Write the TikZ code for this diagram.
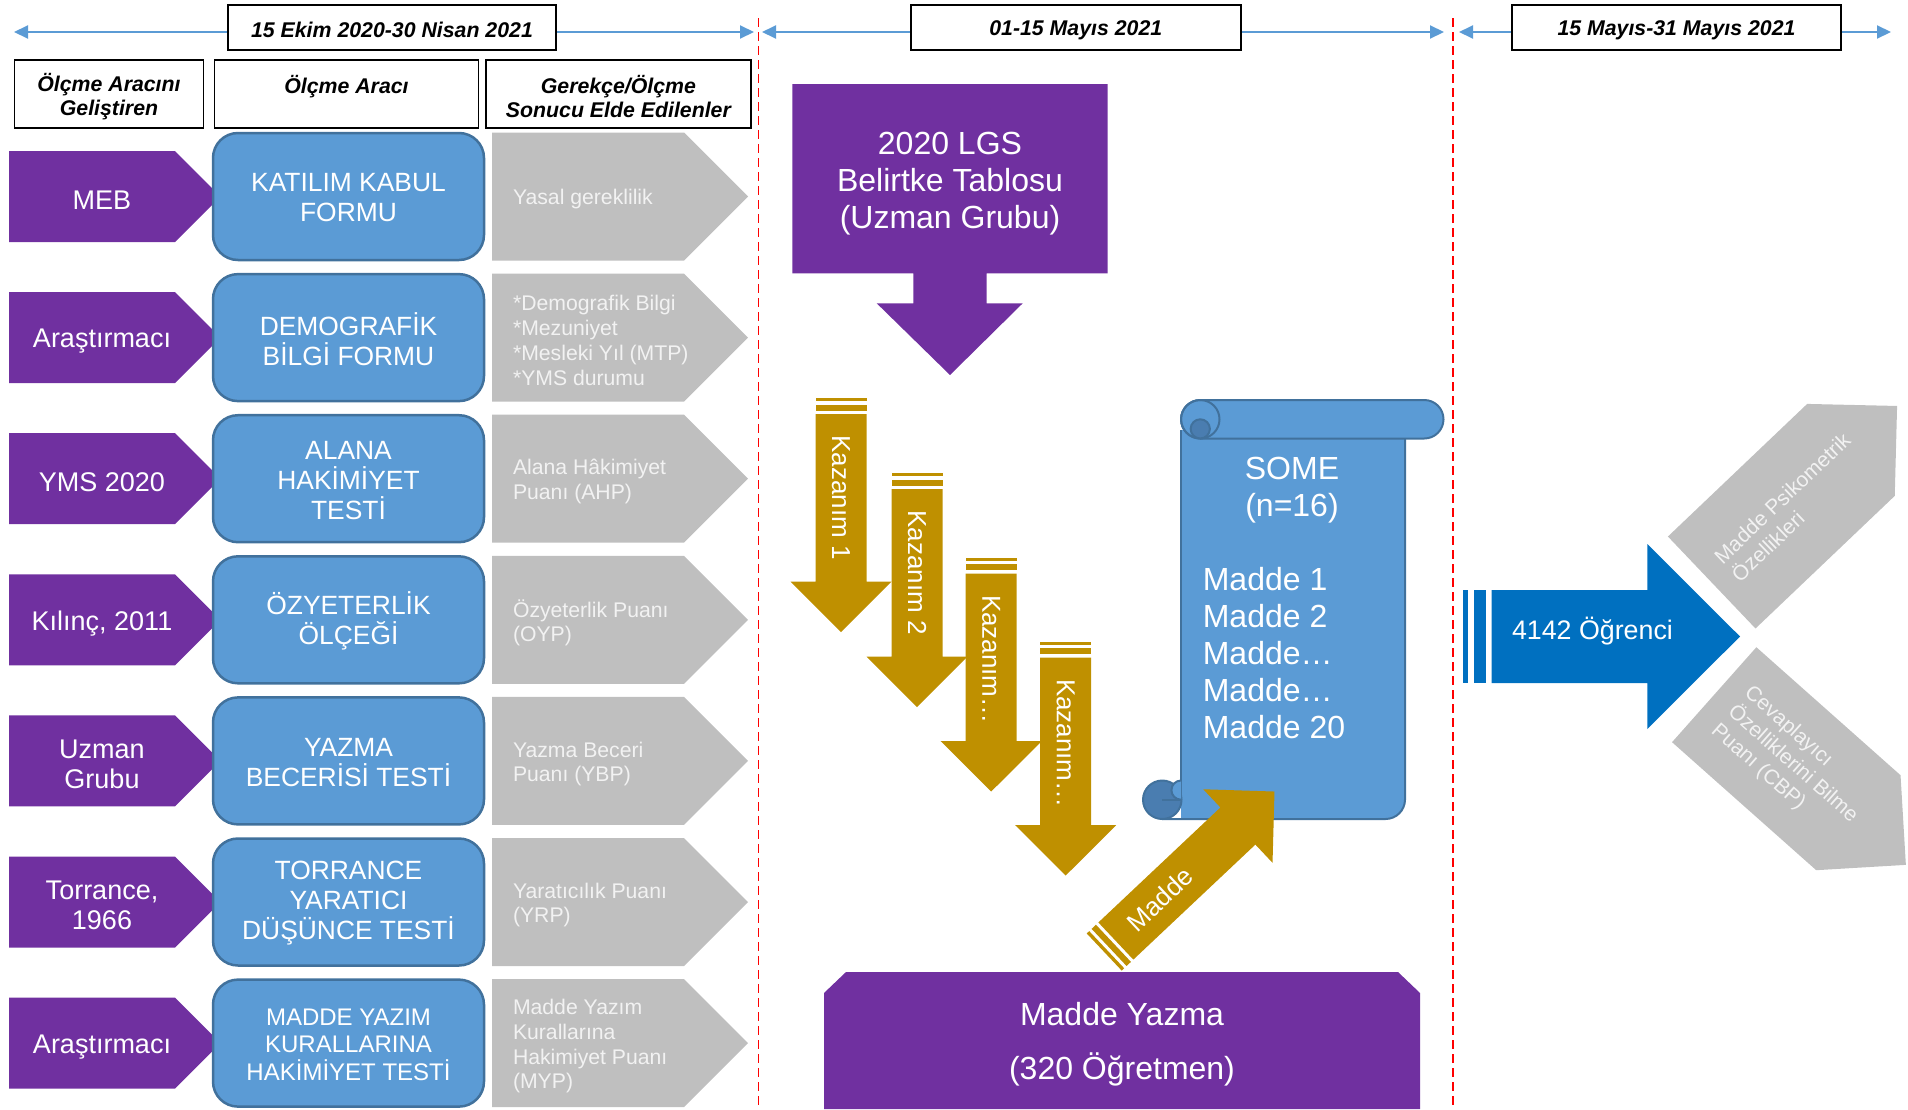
\documentclass[tikz,border=0pt]{standalone}
\usepackage{fontspec}
\setmainfont{Liberation Sans}
\usetikzlibrary{arrows.meta}

\definecolor{mpurple}{HTML}{7030A0}
\definecolor{mblue}{HTML}{5B9BD5}
\definecolor{mbline}{HTML}{41719C}
\definecolor{mbdark}{HTML}{4A7DB0}
\definecolor{mgold}{HTML}{BF9000}
\definecolor{mgray}{HTML}{BFBFBF}
\definecolor{mgtext}{HTML}{F2F2F2}
\definecolor{mdeep}{HTML}{0070C0}
\definecolor{mtime}{HTML}{5B9BD5}

% striped arrow, tail at the origin, pointing along +x
\newcommand\goldarrow{%
  \fill[mgold] (0,-25.5) rectangle (3.4,25.5);
  \fill[mgold] (6.7,-25.5) rectangle (12.7,25.5);
  \fill[mgold] (16,-25.5) -- (183.7,-25.5) -- (183.7,-50.5) -- (234,0)
    -- (183.7,50.5) -- (183.7,25.5) -- (16,25.5) -- cycle;}

% one row of the instrument table: #1 id, #2 centre y, #3 developer,
% #4 instrument, #5 outcome, #6 extra options for the instrument text
\newcommand\toolrow[6]{%
  \fill[mpurple] (9,#2-45.5) -- (175,#2-45.5) -- (220.5,#2) -- (175,#2+45.5) -- (9,#2+45.5) -- cycle;
  \node[devtext] (dev#1) at (102,#2) {#3};
  \node[toolbox] (tool#1) at (348.5,#2) {};
  \node[tooltext,#6] (toolt#1) at (tool#1) {#4};
  \fill[mgray] (492,#2-64) -- (684,#2-64) -- (748,#2) -- (684,#2+64) -- (492,#2+64) -- cycle;
  \node[restext] (res#1) at (513,#2) {#5};}

\begin{document}
\begin{tikzpicture}[x=1pt,y=-1pt,
  every node/.style={inner sep=0pt,outer sep=0pt},
  hdrbox/.style={draw=black,line width=1.6pt,fill=white},
  hdrtext/.style={font=\bfseries\itshape\fontsize{21.3}{23.5}\selectfont,align=center,yshift=-2.5pt},
  timeline/.style={draw=mtime,line width=2pt,
    arrows={Triangle[length=14pt,width=13pt]-Triangle[length=14pt,width=13pt]}},
  divider/.style={draw=red,line width=1.4pt,dash pattern=on 9pt off 5pt},
  devtext/.style={text=white,align=center,font=\fontsize{27}{30}\selectfont,yshift=-3.5pt},
  toolbox/.style={draw=mbline,line width=2.5pt,fill=mblue,rounded corners=25pt,
    minimum width=271pt,minimum height=127pt},
  tooltext/.style={text=white,align=center,font=\fontsize{26.4}{30}\selectfont,yshift=-1.5pt},
  restext/.style={anchor=west,align=left,text=mgtext,font=\fontsize{21.2}{24.8}\selectfont,yshift=-3pt},
  bigtext/.style={text=white,align=center,font=\fontsize{32}{37}\selectfont},
  arrowtext/.style={text=white,font=\fontsize{26}{30}\selectfont},
  sidetext/.style={text=mgtext,align=left,anchor=west,font=\fontsize{21}{25}\selectfont},
  scrollline/.style={draw=mbline,line width=2pt}]
\useasboundingbox (0,0) rectangle (1908,1109);

% ---------- time line ----------
\coordinate (t1a) at (14,32);   \coordinate (t1b) at (754,32);
\coordinate (t2a) at (762,32);  \coordinate (t2b) at (1444,32);
\coordinate (t3a) at (1459,32); \coordinate (t3b) at (1891,32);
\draw[timeline] (t1a) -- (t1b);
\draw[timeline] (t2a) -- (t2b);
\draw[timeline] (t3a) -- (t3b);
\node[hdrbox,minimum width=328pt,minimum height=45pt] (d1) at (392,27.5) {};
\node[hdrbox,minimum width=330pt,minimum height=45pt] (d2) at (1075.8,27.5) {};
\node[hdrbox,minimum width=329pt,minimum height=45pt] (d3) at (1676.5,27.5) {};
\node[hdrtext] (d1t) at (d1) {15 Ekim 2020-30 Nisan 2021};
\node[hdrtext] (d2t) at (d2) {01-15 Mayıs 2021};
\node[hdrtext] (d3t) at (d3) {15 Mayıs-31 Mayıs 2021};

% ---------- phase dividers ----------
\coordinate (v1a) at (758.6,18);  \coordinate (v1b) at (758.6,1109);
\coordinate (v2a) at (1452.8,18); \coordinate (v2b) at (1452.8,1109);
\draw[divider] (v1a) -- (v1b);
\draw[divider] (v2a) -- (v2b);

% ---------- table header ----------
\node[hdrbox,minimum width=189pt,minimum height=68pt] (hA) at (109,94) {};
\node[hdrbox,minimum width=264pt,minimum height=68pt] (hB) at (346.5,94) {};
\node[hdrbox,minimum width=265pt,minimum height=68pt] (hC) at (618.4,94) {};
\node[hdrtext] (hAt) at (hA) {Ölçme Aracını\\Geliştiren};
\node[hdrtext] (hBt) at (346.5,84) {Ölçme Aracı};
\node[hdrtext] (hCt) at (hC) {Gerekçe/Ölçme\\Sonucu Elde Edilenler};

% ---------- table rows ----------
\toolrow{1}{196.5}{MEB}{KATILIM KABUL\\FORMU}{Yasal gereklilik}{}
\toolrow{2}{337.6}{Araştırmacı}{DEMOGRAFİK\\BİLGİ FORMU}{*Demografik Bilgi\\*Mezuniyet\\*Mesleki Yıl (MTP)\\*YMS durumu}{}
\toolrow{3}{478.7}{YMS 2020}{ALANA\\HAKİMİYET\\TESTİ}{Alana Hâkimiyet\\Puanı (AHP)}{}
\toolrow{4}{619.8}{Kılınç, 2011}{ÖZYETERLİK\\ÖLÇEĞİ}{Özyeterlik Puanı\\(OYP)}{}
\toolrow{5}{760.9}{Uzman\\Grubu}{YAZMA\\BECERİSİ TESTİ}{Yazma Beceri\\Puanı (YBP)}{}
\toolrow{6}{902}{Torrance,\\1966}{TORRANCE\\YARATICI\\DÜŞÜNCE TESTİ}{Yaratıcılık Puanı\\(YRP)}{}
\toolrow{7}{1043.1}{Araştırmacı}{MADDE YAZIM\\KURALLARINA\\HAKİMİYET TESTİ}{Madde Yazım\\Kurallarına\\Hakimiyet Puanı\\(MYP)}{font=\fontsize{24}{27.5}\selectfont}

% ---------- specification table with down arrow ----------
\fill[mpurple] (792.3,84) -- (1107.7,84) -- (1107.7,273.3) -- (986.7,273.3) -- (986.7,303.3)
  -- (1022.7,303.3) -- (950,375) -- (876.7,303.3) -- (913.3,303.3) -- (913.3,273.3)
  -- (792.3,273.3) -- cycle;
\node[bigtext] (lgs) at (950,183.5) {2020 LGS\\Belirtke Tablosu\\(Uzman Grubu)};

% ---------- learning outcome arrows ----------
\begin{scope}[shift={(841,398)},rotate=-90]
  \goldarrow
  \node[arrowtext,anchor=west,transform shape] (k1) at (37.5,0) {Kazanım 1};
\end{scope}
\begin{scope}[shift={(917,473)},rotate=-90]
  \goldarrow
  \node[arrowtext,anchor=west,transform shape] (k2) at (37.5,0) {Kazanım 2};
\end{scope}
\begin{scope}[shift={(991.2,557.5)},rotate=-90]
  \goldarrow
  \node[arrowtext,anchor=west,transform shape] (k3) at (37.5,0) {Kazanım…};
\end{scope}
\begin{scope}[shift={(1065.7,641.5)},rotate=-90]
  \goldarrow
  \node[arrowtext,anchor=west,transform shape] (k4) at (37.5,0) {Kazanım…};
\end{scope}

% ---------- scroll ----------
\path[fill=mblue] (1181,430) -- (1181,819) -- (1385.5,819)
  .. controls (1396.3,819) and (1405,810.3) .. (1405,799.5) -- (1405,430) -- cycle;
\draw[scrollline] (1181,430) -- (1181,800);
\draw[scrollline] (1162,819) -- (1385.5,819)
  .. controls (1396.3,819) and (1405,810.3) .. (1405,799.5) -- (1405,430);
\draw[scrollline,fill=mblue,rounded corners=19.25pt] (1181,400) rectangle (1443.5,438.5);
\draw[scrollline] (1200.25,419.25) circle (19.25);
\draw[scrollline,fill=mbdark] (1200.25,428.9) circle (9.6);
\draw[scrollline,fill=mbdark] (1162.25,799.75) circle (19.25);
\begin{scope}
  \clip (1160,778) rectangle (1181,800.5);
  \draw[scrollline,fill=mblue] (1181,790.1) circle (9.6);
\end{scope}
\draw[scrollline] (1162.25,799.75) -- (1181,799.75);
\node[bigtext] (some) at (1292,490.5) {SOME\\(n=16)};
\node[bigtext,align=left,anchor=west] (items) at (1202.8,653.5) {Madde 1\\Madde 2\\Madde…\\Madde…\\Madde 20};

% ---------- item writing ----------
\fill[mpurple] (824,993) -- (846,972) -- (1398,972) -- (1420,993) -- (1420,1109) -- (824,1109) -- cycle;
\node[bigtext] (my1) at (1122,1014) {Madde Yazma};
\node[bigtext] (my2) at (1122,1069) {(320 Öğretmen)};
\begin{scope}[shift={(1104.2,952)},rotate=43.3]
  \goldarrow
  \node[arrowtext,transform shape] (madde) at (76.5,0) {Madde};
\end{scope}

% ---------- students and outputs ----------
\fill[mdeep] (1462.7,590) rectangle (1468.3,683);
\fill[mdeep] (1474.3,590) rectangle (1485.7,683);
\fill[mdeep] (1491.7,590) -- (1647.3,590) -- (1647.3,544) -- (1740,636.5) -- (1647.3,729)
  -- (1647.3,683) -- (1491.7,683) -- cycle;
\node[arrowtext,anchor=west,font=\fontsize{26.8}{30}\selectfont] (stud) at (1512,631) {4142 Öğrenci};

\begin{scope}[shift={(1711.7,582.5)},rotate=43.6]
  \fill[mgray] (0,-63.5) -- (192.3,-63.5) -- (256,0) -- (192.3,63.5) -- (0,63.5) -- cycle;
  \node[sidetext,transform shape] (psy) at (20,0) {Madde Psikometrik\\Özellikleri};
\end{scope}
\begin{scope}[shift={(1714.2,694.7)},rotate=-41.6]
  \fill[mgray] (0,-63.5) -- (192.8,-63.5) -- (256.3,0) -- (192.8,63.5) -- (0,63.5) -- cycle;
  \node[sidetext,transform shape] (cbp) at (22,0) {Cevaplayıcı\\Özelliklerini Bilme\\Puanı (CBP)};
\end{scope}
\end{tikzpicture}
\end{document}
